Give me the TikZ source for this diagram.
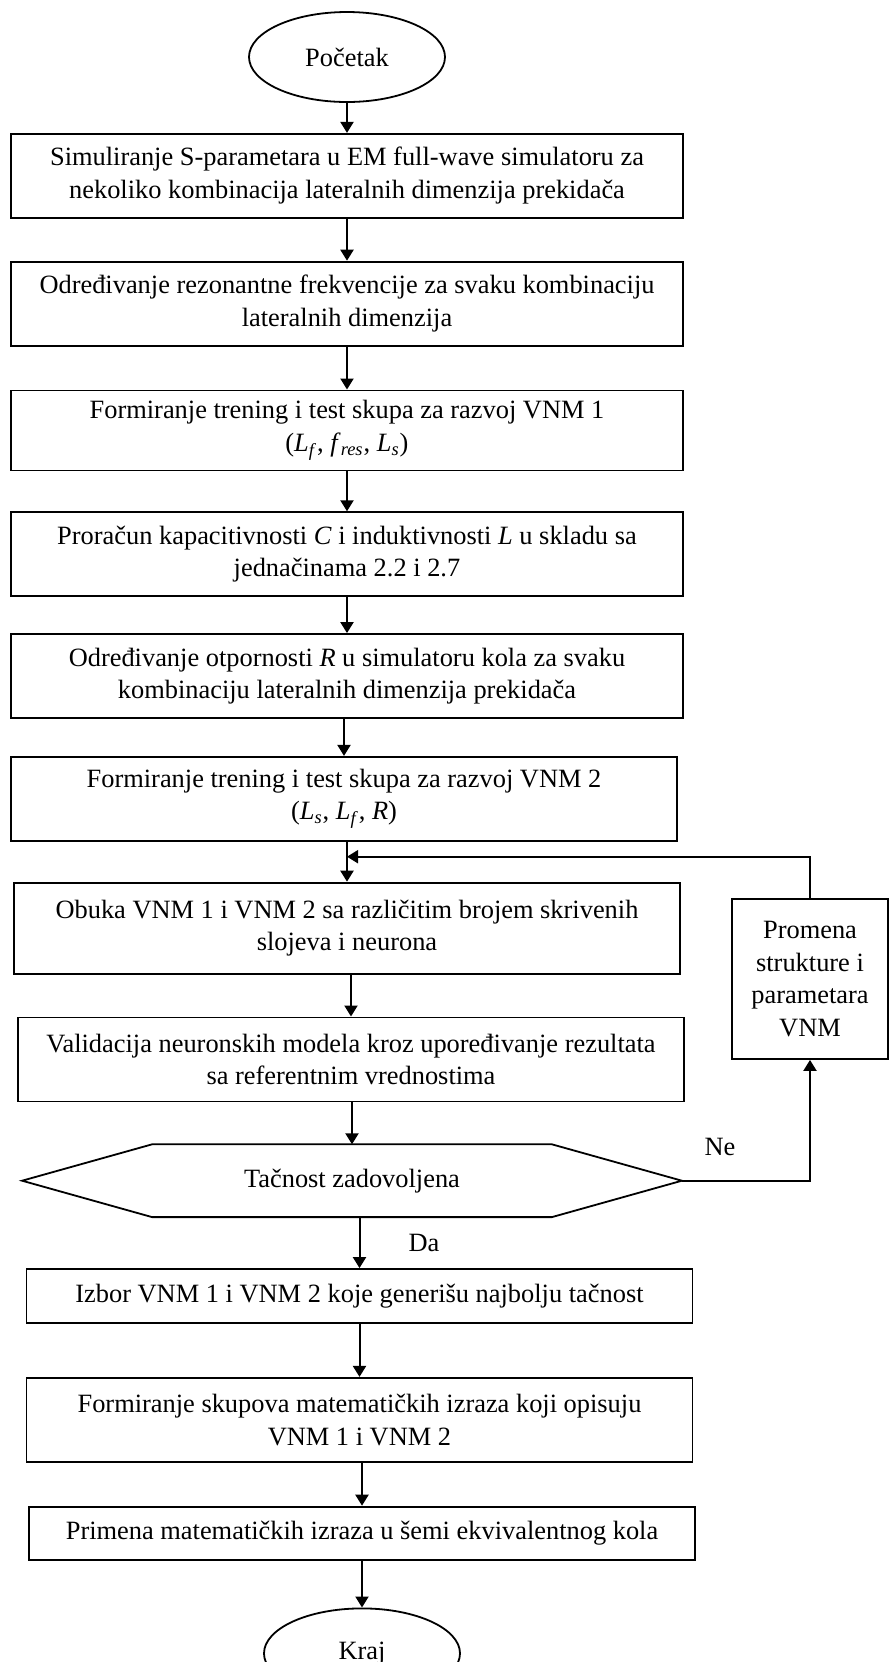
\documentclass[tikz,border=0pt]{standalone}
\usepackage{fontspec}
\setmainfont{Liberation Serif}
\usetikzlibrary{positioning, arrows.meta, shapes.geometric, calc}
\newcommand{\isub}[2]{\textit{#1}\textsubscript{\textit{#2}}}

\begin{document}
\begin{tikzpicture}[
        node distance=20pt,
        font=\fontsize{13.2}{16.3}\selectfont,
        kor/.style={draw, line width=0.9pt, align=center, minimum width=336pt, minimum height=42pt, inner sep=2pt},
        ovl/.style={ellipse, draw, line width=0.9pt, minimum width=98pt, minimum height=45pt},
        str/.style={-{Triangle[length=5.5pt, width=6.5pt]}, line width=1pt}]
    \useasboundingbox (0,0) rectangle (444.5pt,-831pt);
    \node[ovl] (poc) at (173.5pt,-28.5pt) {Početak};
    \node[kor, below=15pt of poc] (s1) {Simuliranje S-parametara u EM full-wave simulatoru za\\nekoliko kombinacija lateralnih dimenzija prekidača};
    \node[kor, below=21pt of s1] (s2) {Određivanje rezonantne frekvencije za svaku kombinaciju\\lateralnih dimenzija};
    \node[kor, below=21.5pt of s2, minimum height=40pt] (s3) {Formiranje trening i test skupa za razvoj VNM 1\\(\isub{L}{f}, \isub{f}{res}, \isub{L}{s})};
    \node[kor, below=20pt of s3] (s4) {Proračun kapacitivnosti \textit{C} i induktivnosti \textit{L} u skladu sa\\jednačinama 2.2 i 2.7};
    \node[kor, below=18pt of s4] (s5) {Određivanje otpornosti \textit{R} u simulatoru kola za svaku\\kombinaciju lateralnih dimenzija prekidača};
    \node[kor, below=18.5pt of s5, xshift=-1.5pt, minimum width=333pt] (s6) {Formiranje trening i test skupa za razvoj VNM 2\\(\isub{L}{s}, \isub{L}{f}, \textit{R})};
    \node[kor, below=20pt of s6, xshift=1.5pt, minimum width=333pt, minimum height=45.5pt] (s7) {Obuka VNM 1 i VNM 2 sa različitim brojem skrivenih\\slojeva i neurona};
    \node[kor, below=21pt of s7, xshift=2pt, minimum width=333pt] (s8) {Validacija neuronskih modela kroz upoređivanje rezultata\\sa referentnim vrednostima};
    % odluka: sestougao se crta posebno oko cvora
    \node[below=21pt of s8, xshift=0.5pt, minimum width=329.5pt, minimum height=36pt] (dec) {Tačnost zadovoljena};
    \draw[line width=0.9pt] (dec.west) -- ([xshift=65pt]dec.north west) -- ([xshift=-65pt]dec.north east) -- (dec.east)
        -- ([xshift=-65pt]dec.south east) -- ([xshift=65pt]dec.south west) -- cycle;
    \node[kor, below=25.5pt of dec, xshift=3.75pt, minimum width=333pt, minimum height=27pt] (s9) {Izbor VNM 1 i VNM 2 koje generišu najbolju tačnost};
    \node[kor, below=26.5pt of s9, minimum width=333pt] (s10) {Formiranje skupova matematičkih izraza koji opisuju\\VNM 1 i VNM 2};
    \node[kor, below=21.5pt of s10, xshift=1.25pt, minimum width=333pt, minimum height=26.5pt] (s11) {Primena matematičkih izraza u šemi ekvivalentnog kola};
    \node[ovl, below=23.5pt of s11] (kraj) {Kraj};
    \node[kor, minimum width=78pt, minimum height=80pt] (pro) at (405pt,-489.5pt) {Promena\\strukture i\\parametara\\VNM};
    \node (ne) at ([xshift=19pt, yshift=17pt]dec.east) {Ne};
    \node (da) at ([xshift=36pt, yshift=-13pt]dec.south) {Da};
    \foreach \a/\b in {poc/s1, s1/s2, s2/s3, s3/s4, s4/s5, s5/s6, s6/s7, s7/s8, s8/dec, dec/s9, s9/s10, s10/s11, s11/kraj}
        \draw[str] (\a.south -| \b.north) -- (\b.north);
    % povratna grana
    \coordinate (spoj) at ($(s6.south -| s7.north)+(0,-7.5pt)$);
    \draw[str] (dec.east) -| (pro.south);
    \draw[str] (pro.north) |- (spoj);
\end{tikzpicture}
\end{document}
